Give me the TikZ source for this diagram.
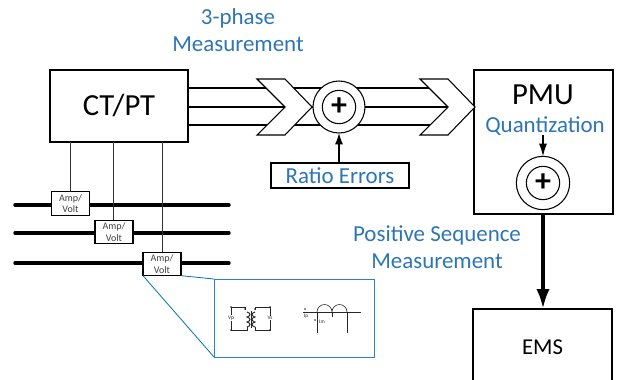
\documentclass[tikz,border=0pt]{standalone}
\usepackage{fontspec}
\setmainfont{Carlito}
\usepackage{tikz}
\usetikzlibrary{calc,arrows.meta}
\definecolor{labelblue}{HTML}{2E75B6}
\definecolor{zoomblue}{HTML}{0070C0}
\tikzset{
  box/.style={draw,line width=1.2pt,fill=white,inner sep=0pt,outer sep=0pt},
  ampbox/.style={box,line width=.9pt,minimum width=28.5pt,minimum height=17.5pt,align=center,font=\fontsize{7.5}{8.5}\selectfont,text=black!75},
  bus/.style={line width=2.6pt,line cap=round},
  ring/.style={draw,line width=.8pt,circle,fill=white,inner sep=0pt,outer sep=0pt},
  plusring/.style={ring,minimum size=25pt,font=\bfseries\fontsize{24}{24}\selectfont},
  bluetext/.style={text=labelblue,font=\fontsize{17.2}{17.2}\selectfont},
  bigtext/.style={font=\fontsize{23}{23}\selectfont},
  stem/.style={line width=.9pt},
  tap/.style={line width=.7pt,black!80},
  circuit/.style={line width=.45pt,black!85},
  chevron/.pic={\draw[line width=.8pt,fill=white] (-28,-28)--(0,-28)--(27,0)--(0,28)--(-28,28)--(0,0)--cycle;}
}
\begin{document}
\begin{tikzpicture}[x=.75pt,y=-.75pt]
  \useasboundingbox (0,0) rectangle (621,379);
  % upper boxes
  \node[box,minimum width=103.5pt,minimum height=54pt,bigtext] (ctpt) at (119,106) {CT/PT};
  \node[box,minimum width=104pt,minimum height=108pt] (pmu) at (543.5,142) {};
  \node[box,minimum width=104pt,minimum height=57pt,font=\fontsize{17}{17}\selectfont] (ems) at (542.5,347) {EMS};
  \node[bigtext] (pmulabel) at (543,95) {PMU};
  \node[bluetext] (quant) at (545,126) {Quantization};
  \node[box,line width=.8pt,minimum width=103.5pt,minimum height=18.75pt,bluetext] (ratio) at (340,175.5) {Ratio Errors};
  % labels
  \node[bluetext,align=center] (phase) at (238,30) {3-phase\\[3pt]Measurement};
  \node[bluetext,align=center] (posseq) at (437,247.5) {Positive Sequence\\[3pt]Measurement};
  % busbars
  \coordinate (busAa) at (15,205); \coordinate (busAb) at (229,205);
  \coordinate (busBa) at (15,233); \coordinate (busBb) at (229,233);
  \coordinate (busCa) at (15,263); \coordinate (busCb) at (229,263);
  \draw[bus] (busAa)--(busAb);
  \draw[bus] (busBa)--(busBb);
  \draw[bus] (busCa)--(busCb);
  % taps
  \coordinate (tapA) at (70,142); \coordinate (tapB) at (113,142); \coordinate (tapC) at (162,142);
  \node[ampbox] (ampA) at (70.5,203.5) {Amp/\\Volt};
  \node[ampbox] (ampB) at (114,232) {Amp/\\Volt};
  \node[ampbox] (ampC) at (162,264) {Amp/\\Volt};
  \draw[tap] (tapA)--(tapA|-ampA.north);
  \draw[tap] (tapB)--(tapB|-ampB.north);
  \draw[tap] (tapC)--(tapC|-ampC.north);
  % three phase lines
  \coordinate (sumpos) at (339,107);
  \foreach \dy in {-19,0,18} {
    \draw[line width=1.1pt] ($(ctpt.east|-sumpos)+(0,\dy)$)--($(sumpos)+(-15,\dy)$);
    \draw[line width=1.1pt] ($(sumpos)+(15,\dy)$)--($(sumpos)+(110,\dy)$);
  }
  \node[ring,minimum size=39pt] (sumA) at (sumpos) {};
  \node[plusring] (plusA) at (sumA) {+};
  \pic at (285,107) {chevron};
  \pic at (448,107) {chevron};
  \draw[stem,-{Latex[length=8.5pt,width=6pt]}] (sumA|-ratio.north)--(sumA.south);
  % PMU sum
  \node[ring,minimum size=40pt] (sumB) at (543,183) {};
  \node[plusring] (plusB) at (sumB) {+};
  \coordinate (quantdrop) at (543,135);
  \draw[stem,-{Latex[length=9.5pt,width=6pt]}] (quantdrop)--(sumB.north);
  \draw[line width=2.8pt,-{Latex[length=15pt,width=10pt]}] (pmu.south-|sumB)--(ems.north-|sumB);
  % zoom window
  \coordinate (winNW) at (214,279); \coordinate (winSE) at (374,357);
  \draw[zoomblue!85,line width=.65pt] (winNW) rectangle (winSE);
  \draw[zoomblue,line width=.6pt] (ampC.south west)--(winNW|-winSE);
  \draw[zoomblue,line width=.6pt] (ampC.south east)--(winNW);
  % transformer
  \begin{scope}[circuit]
    \draw (245,310)--(245,307)--(231,307)--(231,330)--(247,330)--(247,327);
    \draw (255,310)--(255,307)--(270,307)--(270,330)--(255,330)--(255,327);
    \draw[line width=.7pt] (247,312) .. controls (251,313) and (251,316) .. (247,317) .. controls (251,318) and (251,321) .. (247,322) .. controls (251,323) and (251,326) .. (247,327);
    \draw[line width=.7pt] (255,312) .. controls (251,313) and (251,316) .. (255,317) .. controls (251,318) and (251,321) .. (255,322) .. controls (251,323) and (251,326) .. (255,327);
    \draw[line width=.7pt] (251,311)--(251,328);
    \foreach \p in {(231,307),(231,330),(270,307),(270,330),(245,309),(255,309),(305,309),(315,320)}
      \fill \p circle (.9);
    \node[font=\fontsize{4}{4}\selectfont,fill=white,inner sep=.3pt] (vp) at (231,318) {Vp};
    \node[font=\fontsize{4}{4}\selectfont,fill=white,inner sep=.3pt] (vs) at (270,318) {Vs};
    % current transformer
    \draw (303,312)--(361,312);
    \draw (317,312) arc (180:360:7.5) arc (180:360:7.5);
    \draw (317,312)--(317,333);
    \draw (347,312)--(347,333);
    \draw (332,312)--(332,317);
    \node[font=\fontsize{4}{4}\selectfont,inner sep=.3pt] (ip) at (306,316) {Ip};
    \node[font=\fontsize{4}{4}\selectfont,inner sep=.3pt] (im) at (322,322) {Im};
  \end{scope}
\end{tikzpicture}
\end{document}
